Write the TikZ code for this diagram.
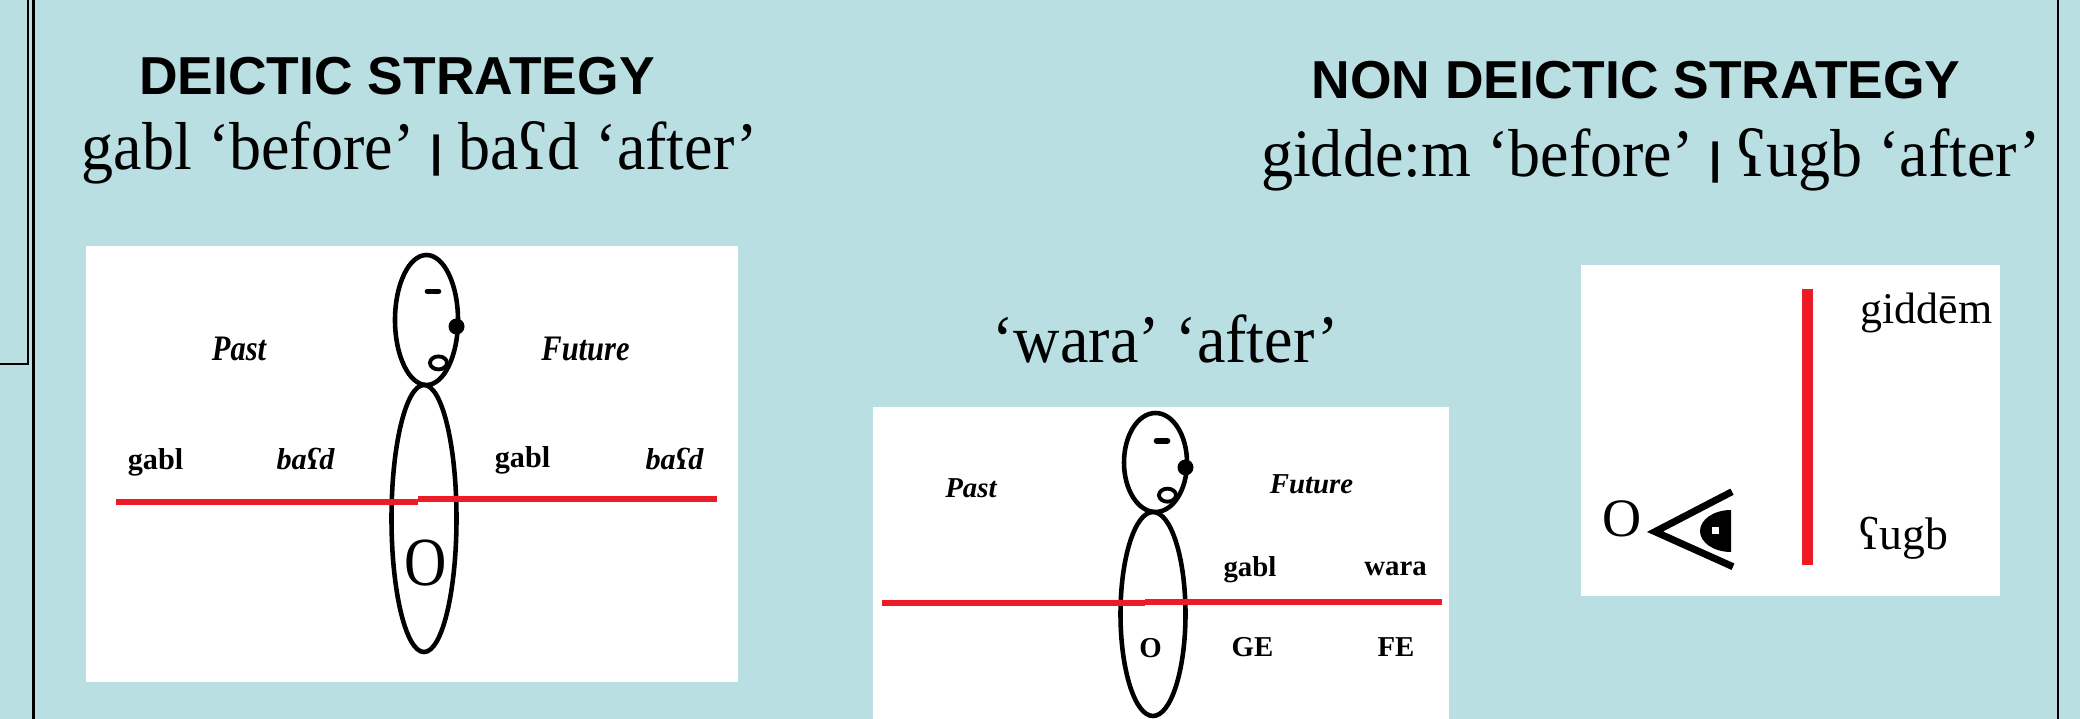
\documentclass[tikz,border=0pt]{standalone}
\usepackage{fontspec}
\setmainfont{Liberation Serif}
\newfontfamily\headsans{Liberation Sans}
\newfontfamily\glossfont[FakeStretch=0.945]{Liberation Serif}
\newfontfamily\tallserif[FakeStretch=0.85]{Liberation Serif}
\definecolor{slidebg}{RGB}{186,223,227}
\definecolor{linered}{RGB}{237,28,36}
% short heavy bar between the two glosses
\newcommand{\sepbar}{{\headsans\bfseries\fontsize{12.4}{12.4}\selectfont\raisebox{1.1pt}{|}}}

\begin{document}
\begin{tikzpicture}[
  title/.style={font=\headsans\bfseries\fontsize{15.2}{16}\selectfont, anchor=base, inner sep=0pt},
  gloss/.style={font=\glossfont\fontsize{19.3}{21}\selectfont, anchor=base, inner sep=0pt},
  panel/.style={fill=white, draw=none},
  lbl/.style={font=\bfseries\fontsize{#1}{10}\selectfont, anchor=base, inner sep=0pt},
  lbli/.style={font=\bfseries\itshape\fontsize{#1}{10}\selectfont, anchor=base, inner sep=0pt},
  tlbl/.style={font=\tallserif\bfseries\itshape\fontsize{10.2}{11}\selectfont, anchor=base, inner sep=0pt},
  plain/.style={font=\fontsize{#1}{#1}\selectfont, anchor=base, inner sep=0pt},
  figline/.style={line width=1.3pt},
  tline/.style={draw=linered, line width=1.6pt},
]
% ---- stick figure: #1 id #2 head x #3 neck y #4 head height #5 body height ----
\newcommand{\stickman}[5]{%
  \draw[figline] (#2,#3+#4/2) ellipse[x radius=0.315, y radius=#4/2];%
  \draw[figline] (#2-0.025,#3-#5/2) ellipse[x radius=0.325, y radius=#5/2];%
  \draw[line width=1.6pt, line cap=round] (#2+0.01,#3+0.72*#4) -- ++(0.11,0);%
  \fill (#2+0.30,#3+0.45*#4) circle[radius=0.08];%
  \draw[line width=1.1pt] (#2+0.12,#3+0.17*#4) ellipse[x radius=0.085, y radius=0.065];%
  \coordinate (#1-n) at (#2,#3+#4);\coordinate (#1-s) at (#2-0.025,#3-#5);%
}

% ---- slide background and frame ----
\useasboundingbox (0,0) rectangle (20.8,-7.19);
\fill[slidebg] (0,0) rectangle (20.8,-7.19);
\draw[line width=0.7pt] (0.28,0) -- (0.28,-3.64) -- (0,-3.64);
\draw[line width=0.6pt] (0.335,0) -- (0.335,-7.19);
\draw[line width=0.8pt] (20.58,0) -- (20.58,-7.19);

% ---- headings ----
\node[title] (dtitle) at (3.97,-0.95) {DEICTIC STRATEGY};
\node[gloss] (dgloss) at (4.20,-1.70) {gabl ‘before’ \sepbar{} baʕd ‘after’};
\node[title] (ntitle) at (16.36,-0.99) {NON DEICTIC STRATEGY};
\node[gloss] (ngloss) at (16.51,-1.77) {gidde:m ‘before’ \sepbar{} ʕugb ‘after’};
\node[gloss] (wgloss) at (11.655,-3.63) {‘wara’ ‘after’};

% ---- panel 1: deictic ----
\fill[panel] (0.86,-2.46) rectangle (7.38,-6.82);
\stickman{p1}{4.265}{-3.85}{1.30}{2.67}
\node[tlbl] (p1past) at (2.39,-3.61) {Past};
\node[tlbl] (p1fut)  at (5.855,-3.60) {Future};
\node[lbl=8.6]  (p1g1) at (1.555,-4.70) {gabl};
\node[lbli=8.6] (p1b1) at (3.055,-4.70) {baʕd};
\node[lbl=8.6]  (p1g2) at (5.225,-4.67) {gabl};
\node[lbli=8.6] (p1b2) at (6.745,-4.69) {baʕd};
\draw[tline] (1.16,-5.02) -- (4.18,-5.02);
\draw[tline] (4.18,-4.99) -- (7.17,-4.99);
\node[font=\tallserif\fontsize{19.6}{20}\selectfont, anchor=base, inner sep=0pt] (p1o) at (4.26,-5.85) {O};

% ---- panel 2: wara ----
\fill[panel] (8.73,-4.07) rectangle (14.49,-7.19);
\stickman{p2}{11.555}{-5.12}{0.99}{2.04}
\node[lbli=8.2] (p2past) at (9.71,-4.97) {Past};
\node[lbli=8.2] (p2fut)  at (13.115,-4.93) {Future};
\node[lbl=8.2]  (p2g)    at (12.50,-5.77) {gabl};
\node[lbl=8.2]  (p2w)    at (13.955,-5.76) {wara};
\draw[tline] (8.82,-6.03) -- (11.45,-6.03);
\draw[tline] (11.45,-6.02) -- (14.42,-6.02);
\node[lbl=8.2]  (p2o)    at (11.505,-6.57) {O};
\node[lbl=8.2]  (p2ge)   at (12.525,-6.56) {GE};
\node[lbl=8.2]  (p2fe)   at (13.96,-6.56) {FE};

% ---- panel 3: non deictic ----
\fill[panel] (15.81,-2.65) rectangle (20.00,-5.96);
\fill[linered] (18.02,-2.89) rectangle (18.13,-5.65);
\node[plain=12.5] (p3gid) at (19.265,-3.24) {giddēm};
\node[plain=13]   (p3ugb) at (19.035,-5.50) {ʕugb};
\node[plain=15.4] (p3o)   at (16.22,-5.37) {O};
% eye looking at the line
\coordinate (eyetip) at (16.55,-5.317);
\draw[line width=2pt] (17.32,-4.917) -- (eyetip) -- (17.33,-5.667);
\fill (17.31,-5.10) arc[start angle=90, end angle=270, x radius=0.31, y radius=0.21] -- cycle;
\fill[white] (17.12,-5.34) rectangle (17.185,-5.275);

\end{tikzpicture}
\end{document}
